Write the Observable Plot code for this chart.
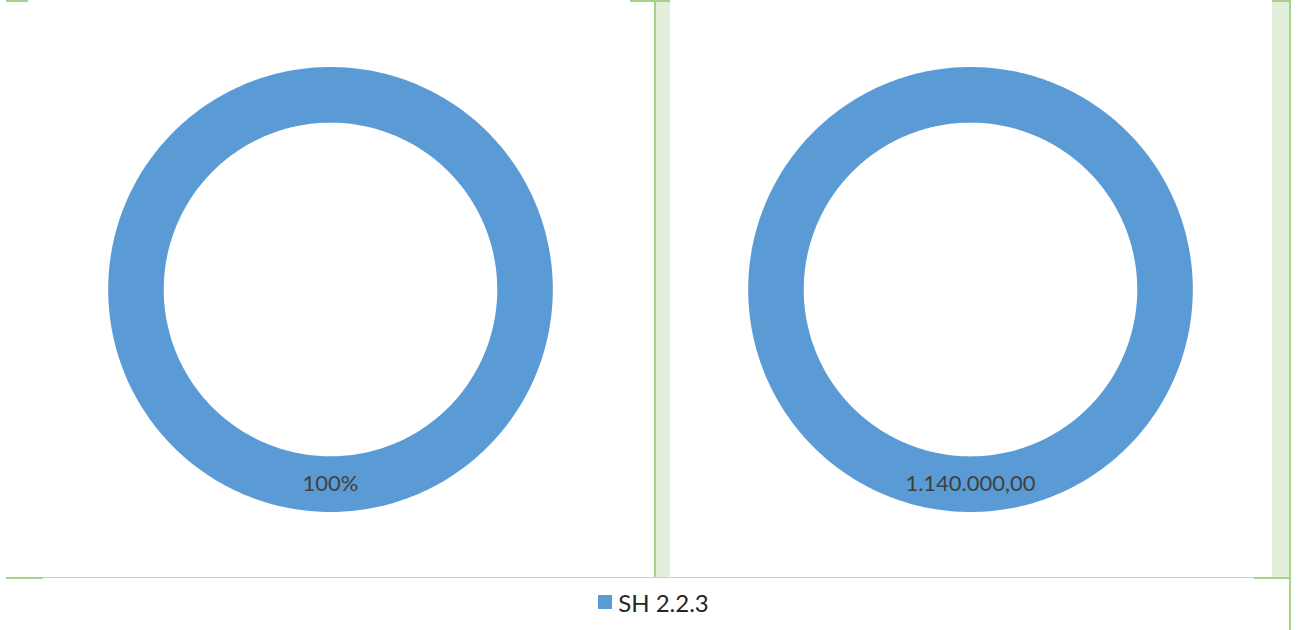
<!DOCTYPE html>
<html><head><meta charset="utf-8">
<script src="https://cdn.jsdelivr.net/npm/d3@7"></script>
<script src="https://cdn.jsdelivr.net/npm/@observablehq/plot@0.6"></script>
<style>
html,body{margin:0;padding:0;background:#fff;}
#wrap{position:relative;width:1307px;height:630px;overflow:hidden;font-family:Lato,"Open Sans",sans-serif;}
#chart{position:absolute;left:0;top:0;}
.g{position:absolute;background:#A9D18E;}
.gt{position:absolute;background:#BCD9A8;}
.lg{position:absolute;background:#E2EFDA;}
#legend{position:absolute;left:0;top:578px;width:1307px;height:48px;display:flex;justify-content:center;align-items:center;gap:6px;font-size:24px;color:#262626;}
#legend .sw{width:14px;height:14px;background:#5B9BD5;}
</style></head><body>
<div id="wrap">
  <div id="chart"></div>
  <div class="lg" style="left:656px;top:0;width:14px;height:577px"></div>
  <div class="lg" style="left:1272px;top:0;width:17px;height:577px"></div>
  <div class="g" style="left:6px;top:0;width:22px;height:2px"></div>
  <div class="g" style="left:630px;top:0;width:40px;height:2px"></div>
  <div class="g" style="left:1272px;top:0;width:19px;height:2px"></div>
  <div class="g" style="left:654px;top:0;width:2px;height:578px"></div>
  <div class="g" style="left:1289px;top:0;width:2px;height:630px"></div>
  <div class="gt" style="left:6px;top:577px;width:1284px;height:1px"></div>
  <div class="g" style="left:6px;top:577px;width:37px;height:2px"></div>
  <div class="g" style="left:1254px;top:577px;width:37px;height:2px"></div>
  <div id="legend"></div>
</div>
<script>
// ---- data ----
const categories = ["SH 2.2.3"];
const chartNames = ["percent", "amount"];
const percentValues = [100];
const amountValues = [1140000];

// ---- styles / layout ----
const sliceColors = ["#5B9BD5"];
const holeRatio = 0.75;
const W = 1307, H = 578, mL = 9, mR = 17;
const radiusPx = 222.5;
const kx = ((W - mL - mR) / 2 / 2) / radiusPx;
const ky = (H / 2) / radiusPx;

const euro = d3.formatLocale({decimal: ",", thousands: ".", grouping: [3], currency: ["", " €"]});
const fmtAmount = euro.format(",.2f");
const fmtPct = d3.format(".0%");

const series = [
  {chart: "percent", values: percentValues, label: (v, tot) => fmtPct(v / tot)},
  {chart: "amount", values: amountValues, label: (v) => fmtAmount(v)}
];

const ringPts = [];
const labels = [];
for (const s of series) {
  const tot = d3.sum(s.values);
  const arcs = d3.pie().sort(null).value(d => d)(s.values);
  arcs.forEach((a, i) => {
    const key = s.chart + "-" + categories[i];
    const n = Math.max(2, Math.ceil((a.endAngle - a.startAngle) / (Math.PI * 2) * 360));
    for (let j = 0; j <= n; j++) {
      const t = a.startAngle + (a.endAngle - a.startAngle) * j / n;
      ringPts.push({chart: s.chart, key, cat: categories[i], x: Math.sin(t), y: Math.cos(t)});
    }
    for (let j = n; j >= 0; j--) {
      const t = a.startAngle + (a.endAngle - a.startAngle) * j / n;
      ringPts.push({chart: s.chart, key, cat: categories[i], x: holeRatio * Math.sin(t), y: holeRatio * Math.cos(t)});
    }
    const mid = (a.startAngle + a.endAngle) / 2;
    const rm = (1 + holeRatio) / 2;
    labels.push({chart: s.chart, x: rm * Math.sin(mid), y: rm * Math.cos(mid), text: s.label(a.data, tot)});
  });
}

const plot = Plot.plot({
  width: W, height: H,
  marginLeft: mL, marginRight: mR, marginTop: 0, marginBottom: 0,
  style: {fontFamily: "Lato, 'Open Sans', sans-serif", background: "transparent"},
  fx: {domain: chartNames, axis: null, padding: 0},
  x: {domain: [-kx, kx], axis: null},
  y: {domain: [-ky, ky], axis: null},
  color: {domain: categories, range: sliceColors},
  marks: [
    Plot.line(ringPts, {x: "x", y: "y", z: "key", fx: "chart", fill: "cat", stroke: "none", curve: "linear"}),
    Plot.text(labels, {x: "x", y: "y", fx: "chart", text: "text", fontSize: 22, fill: "#404040"})
  ]
});
document.getElementById("chart").appendChild(plot);

const legend = document.getElementById("legend");
categories.forEach((c, i) => {
  const sw = document.createElement("div"); sw.className = "sw"; sw.style.background = sliceColors[i];
  const tx = document.createElement("span"); tx.textContent = c;
  legend.appendChild(sw); legend.appendChild(tx);
});
</script>
</body></html>
